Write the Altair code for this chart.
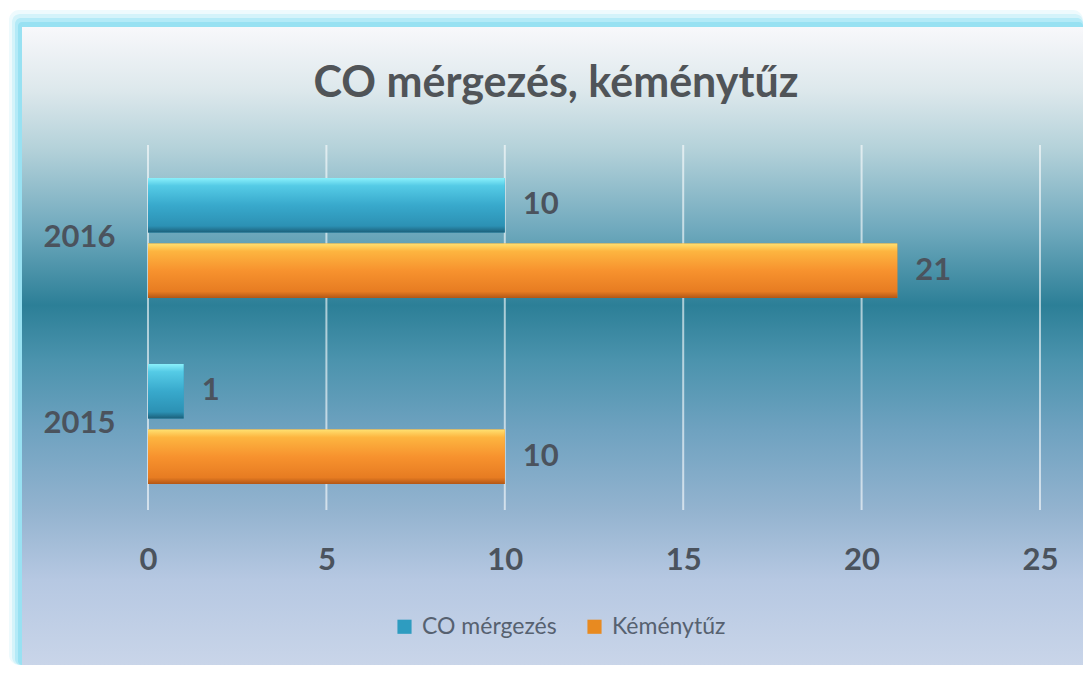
import altair as alt
import pandas as pd

# ---- data ----
years = ["2016", "2015"]
series = ["CO mérgezés", "Kéménytűz"]
co_values = [10, 1]
kemeny_values = [21, 10]
x_ticks = [0, 5, 10, 15, 20, 25]
title_text = "CO mérgezés, kéménytűz"

rows = []
for i, yr in enumerate(years):
    rows.append({"year": yr, "series": series[0], "value": co_values[i]})
    rows.append({"year": yr, "series": series[1], "value": kemeny_values[i]})
df = pd.DataFrame(rows)
ticks_df = pd.DataFrame({"tick": x_ticks})
one = pd.DataFrame({"k": [0]})

# ---- style ----
W, H = 892, 365
FONT = "Lato"
TEXT = "#4b535d"


def grad(stops):
    return alt.LinearGradient(
        gradient="linear",
        stops=[alt.GradientStop(color=c, offset=o) for o, c in stops],
        x1=0, x2=0, y1=0, y2=1,
    )


panel_grad = grad([
    (0.0, "#f8f8fb"), (0.099, "#dde8ec"), (0.193, "#b3d1d9"), (0.318, "#6fa9bd"),
    (0.436, "#2c7f97"), (0.522, "#4b93ad"), (0.632, "#6fa2c0"), (0.757, "#93b3cf"),
    (0.867, "#b6c8e2"), (1.0, "#c9d5e9"),
])
co_grad = grad([(0.0, "#8af0fb"), (0.14, "#55cbe6"), (0.5, "#38a9cc"),
                (0.88, "#2c91b4"), (1.0, "#1c607a")])
ke_grad = grad([(0.0, "#ffe070"), (0.14, "#fdb540"), (0.5, "#f7922e"),
                (0.88, "#e77c22"), (1.0, "#b25716")])


def deco_rect(x, x2, y, y2, fill, radius=0):
    return alt.Chart(one).mark_rect(color=fill, cornerRadius=radius).encode(
        x=alt.value(x), x2=alt.value(x2), y=alt.value(y), y2=alt.value(y2))


x_scale = alt.Scale(domain=[0, 25], nice=False, zero=True)
y_scale = alt.Scale(domain=years, paddingInner=0.355, paddingOuter=0.1586, align=0.56)
yo_scale = alt.Scale(domain=series, paddingInner=0.17, paddingOuter=0)

x_axis = alt.Axis(values=x_ticks, grid=False, domain=False, ticks=False,
                  labelFontSize=31, labelFont=FONT, labelFontWeight="bold",
                  labelColor=TEXT, labelPadding=35, labelFlush=False, zindex=1)
y_axis = alt.Axis(grid=False, domain=False, ticks=False,
                  labelFontSize=31, labelFont=FONT, labelFontWeight="bold",
                  labelColor=TEXT, labelPadding=33, zindex=1)

# ---- decoration ----
bg0 = deco_rect(-140, 935, -137, 520, "#ffffff")
bg1 = deco_rect(-139, 935, -135, 520, "#eefafd", 10)
bg2 = deco_rect(-136, 935, -131, 520, "#d4f3fa", 8)
bg3 = deco_rect(-133, 935, -127, 520, "#b4eaf7", 6)
bg4 = deco_rect(-130, 935, -123, 520, "#98e1f2", 4)
panel = deco_rect(-126, 935, -118, 520, panel_grad)

grid = alt.Chart(ticks_df).mark_rule(color="#ffffff", opacity=0.6, strokeWidth=2).encode(
    x=alt.X("tick:Q", scale=x_scale, axis=x_axis, title=None)
)

base = alt.Chart(df).encode(
    y=alt.Y("year:N", scale=y_scale, axis=y_axis, title=None, sort=years),
    yOffset=alt.YOffset("series:N", scale=yo_scale, sort=series),
    x=alt.X("value:Q", scale=x_scale, axis=x_axis, title=None),
)

flat = base.mark_bar().encode(
    color=alt.Color(
        "series:N",
        scale=alt.Scale(domain=series, range=["#2e9cc0", "#e88a20"]),
        title=None,
        legend=alt.Legend(
            orient="none", legendX=245, legendY=470, direction="horizontal",
            symbolType="square", symbolSize=200, symbolStrokeWidth=0,
            labelFontSize=23, labelFont=FONT, labelColor="#566170",
            columnPadding=26, labelOffset=6, zindex=1,
        ),
    )
)
co_bars = base.transform_filter(alt.datum.series == series[0]).mark_bar(color=co_grad)
ke_bars = base.transform_filter(alt.datum.series == series[1]).mark_bar(color=ke_grad)

labels = base.mark_text(align="left", baseline="middle", dx=18, fontSize=31,
                        fontWeight="bold", font=FONT, color=TEXT).encode(text="value:Q")

title = alt.Chart(one).mark_text(
    text=title_text, fontSize=43, fontWeight="bold", font=FONT, color="#505458",
    align="center", baseline="alphabetic",
).encode(x=alt.value(408), y=alt.value(-48))

chart = alt.layer(
    bg0, bg1, bg2, bg3, bg4, panel, grid, flat, co_bars, ke_bars, labels, title
).properties(width=W, height=H, padding=0, background="white").configure_view(
    stroke="transparent"
)

chart.save("out.html", embed_options={"renderer": "svg", "actions": False})
